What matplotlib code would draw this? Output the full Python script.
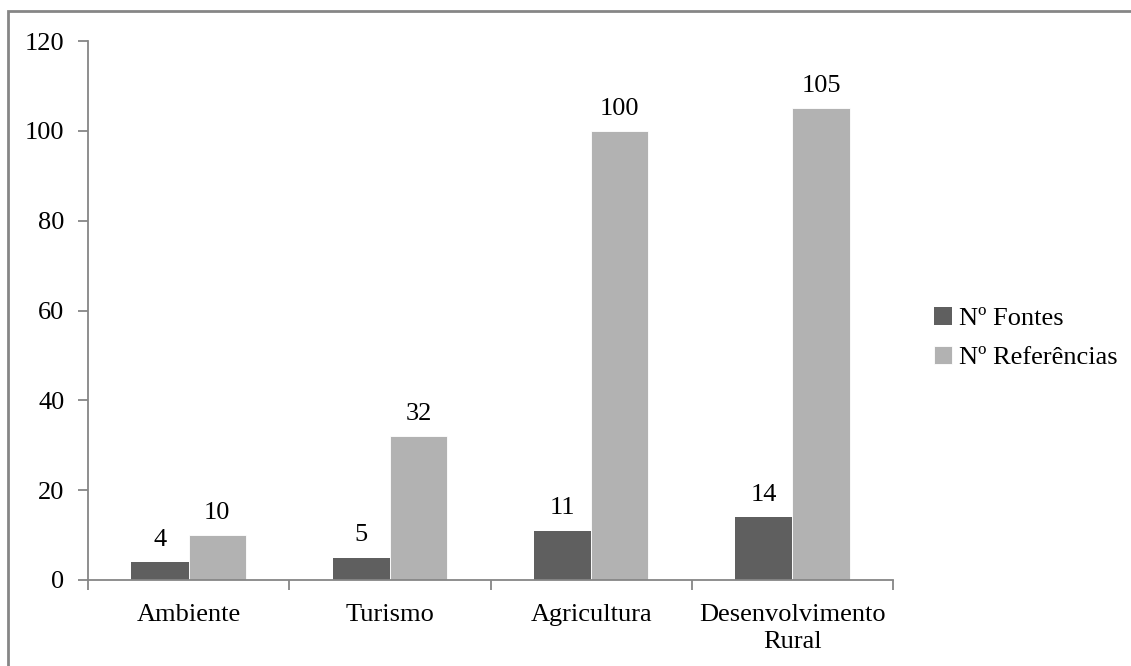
import numpy as np
import matplotlib.pyplot as plt
from matplotlib.patches import Rectangle

categorias = ["Ambiente", "Turismo", "Agricultura", "Desenvolvimento\nRural"]
fontes = [4, 5, 11, 14]
referencias = [10, 32, 100, 105]

plt.rcParams['font.family'] = ['Liberation Serif', 'DejaVu Serif']
plt.rcParams['font.size'] = 19

cor_fontes = "#5f5f5f"
cor_refs = "#b2b2b2"
cor_eixo = "#868686"

fig = plt.figure(figsize=(11.31, 6.66), dpi=100)
ax = fig.add_axes([88 / 1131, 1 - 580 / 666, (893 - 88) / 1131, (580 - 41) / 666])

# moldura exterior do gráfico
fig.patches.append(Rectangle((8 / 1131, -0.05), 1.1, 1 - 11 / 666 + 0.05,
                             transform=fig.transFigure, fill=False,
                             edgecolor=cor_eixo, linewidth=2))

x = np.arange(len(categorias))
w = 0.285
b1 = ax.bar(x - w / 2, fontes, w, color=cor_fontes, label="Nº Fontes")
b2 = ax.bar(x + w / 2, referencias, w, color=cor_refs, edgecolor="white",
            linewidth=0.6, label="Nº Referências")

for barras, vals in [(b1, fontes), (b2, referencias)]:
    for r, v in zip(barras, vals):
        ax.annotate(str(v), (r.get_x() + r.get_width() / 2, v),
                    xytext=(0, 8), textcoords="offset points",
                    ha="center", va="bottom")

ax.set_xlim(-0.5, len(categorias) - 0.5)
ax.set_ylim(0, 120)
ax.set_yticks(range(0, 121, 20))
ax.set_xticks(np.arange(-0.5, len(categorias), 1))
ax.set_xticklabels([])
ax.set_xticks(x, minor=True)
ax.set_xticklabels(categorias, minor=True, linespacing=1.3)
ax.tick_params(axis="x", which="minor", length=0, pad=17)
ax.tick_params(axis="x", which="major", length=7, color=cor_eixo, width=1.3)
ax.tick_params(axis="y", length=7, color=cor_eixo, width=1.3, pad=10)

for s in ["top", "right"]:
    ax.spines[s].set_visible(False)
for s in ["left", "bottom"]:
    ax.spines[s].set_color(cor_eixo)
    ax.spines[s].set_linewidth(1.3)

ax.legend(loc="center left", bbox_to_anchor=(934 / 1131, 1 - 338 / 666),
          bbox_transform=fig.transFigure, frameon=False,
          handlelength=0.7, handleheight=0.7, handletextpad=0.25,
          labelspacing=0.6, borderaxespad=0, borderpad=0)

fig.savefig("out.png", dpi=100)
